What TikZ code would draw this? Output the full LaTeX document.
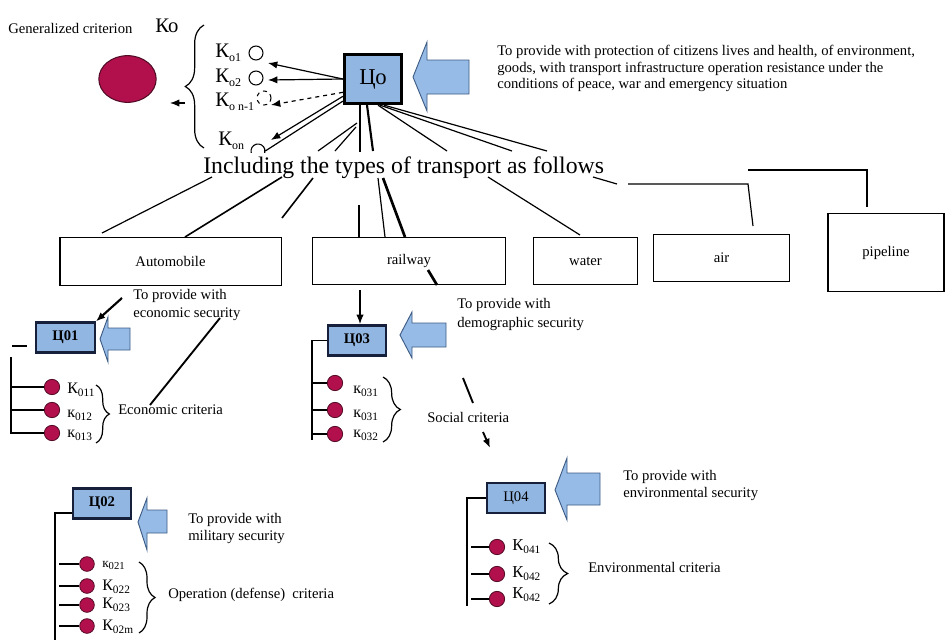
\documentclass[tikz,border=0pt]{standalone}
\usepackage{fontspec}
\setmainfont{Liberation Serif}
\usetikzlibrary{arrows.meta,shapes.geometric,decorations.pathreplacing}

\definecolor{goalfill}{RGB}{146,182,226}
\definecolor{goaledge}{RGB}{22,32,58}
\definecolor{arrowfill}{RGB}{150,187,230}
\definecolor{arrowedge}{RGB}{62,92,132}
\definecolor{critfill}{RGB}{178,16,76}
\definecolor{critedge}{RGB}{84,12,38}

\newcommand{\fsl}[2]{\fontsize{#1}{#2}\selectfont}
% index set slightly below the baseline of its letter
\newcommand{\lowidx}[3][0.2em]{\raisebox{-#1}{\fsl{#2}{#2}#3}}

\begin{document}
\begin{tikzpicture}[x=0.75pt, y=-0.75pt,
  conn/.style={line width=0.9pt},
  heavy/.style={line width=2pt},
  tipc/.style={-{Latex[length=7pt,width=5.5pt]}},
  txt/.style={inner sep=0pt, font=\fsl{11}{13}},
  klbl/.style={inner sep=0pt, anchor=base west, font=\fsl{12}{12}},
  topk/.style={inner sep=0pt, anchor=base west, font=\fsl{15.5}{15.5}},
  tbox/.style={draw, line width=1pt, inner sep=0pt, font=\fsl{11}{13}},
  goalbox/.style={draw=goaledge, line width=1.6pt, fill=goalfill, inner sep=0pt,
    minimum width=44pt, minimum height=22.5pt, font=\bfseries\fsl{11}{13}},
  critdot/.style={circle, draw=critedge, line width=0.6pt, fill=critfill,
    minimum size=11.5pt, inner sep=0pt},
  opencirc/.style={circle, draw, line width=0.8pt, minimum size=10.5pt, inner sep=0pt},
  arrowshape/.style={fill=arrowfill, draw=arrowedge, line width=0.7pt, line join=miter},
  bracedeco/.style={decorate, decoration={brace, amplitude=#1}, line width=0.9pt},
]
\useasboundingbox (0,0) rectangle (945,643);

% ---------- generalized criterion ----------
\node[txt, anchor=base west] (gen) at (8,33) {Generalized criterion};
\node[topk] (kolbl) at (155,32) {Ко};
\node[ellipse, fill=critfill, draw=critedge, line width=0.8pt,
      minimum width=43pt, minimum height=35pt] (gc) at (127.5,79) {};

% ---------- partial criteria of the upper level ----------
\node[topk] (lk1) at (215,57) {К\lowidx{9}{o1}};
\node[topk] (lk2) at (215,82) {К\lowidx{9}{o2}};
\node[topk] (lk3) at (215,106) {К\lowidx{9}{o n-1}};
\node[topk] (lk4) at (218,145) {К\lowidx{9}{on}};
\node[opencirc] (ko1) at (256,53) {};
\node[opencirc] (ko2) at (256,78) {};
\node[opencirc, dashed] (kon1) at (264,98) {};
\node[circle, minimum size=10.5pt, inner sep=0pt] (kon) at (258,151) {};
\draw[line width=0.8pt] ([shift={(195:5.25pt)}]kon.center) arc[start angle=195, end angle=-15, radius=5.25pt];

\draw[bracedeco=14pt] (204,148) -- (204,25);
\coordinate (kb1) at (185,103);
\coordinate (kb2) at (170,103);
\draw[conn, tipc] (kb1) -- (kb2);

% ---------- main goal ----------
\node[draw, line width=2.2pt, fill=goalfill, minimum width=43pt, minimum height=37pt,
      inner sep=0pt, font=\fsl{17}{17}] (co) at (373,79) {Цо};
\draw[arrowshape] (413,77) -- (427,42) -- (427,60) -- (469,60) -- (469,94) -- (427,94) -- (427,111) -- cycle;
\node[txt, anchor=north west, align=left, font=\fsl{11}{12.5}] (goal) at (497,45)
  {To provide with protection of citizens lives and health, of environment,\\
   goods, with transport infrastructure operation resistance under the\\
   conditions of peace, war and emergency situation};

\coordinate (t1) at (268,63);
\coordinate (t2) at (268,80);
\coordinate (t3) at (271,105);
\coordinate (t4) at (271,140);
\draw[conn, tipc] (co.west) -- (t1);
\draw[conn, tipc] (co.west) -- (t2);
\draw[conn, tipc, dashed] ([yshift=-10pt]co.west) -- (t3);
\draw[conn, tipc] ([yshift=-13pt]co.west) -- (t4);
\draw[conn] ([yshift=3pt]co.south west) -- (kon.east);

% ---------- types of transport ----------
\node[inner sep=0pt, anchor=base west, font=\fsl{17.8}{17.8}] (incl) at (203,173)
  {Including the types of transport as follows};

\coordinate (a1s) at (357,123); \coordinate (a1e) at (318,151);
\coordinate (a2s) at (356,127); \coordinate (a2e) at (335,151);
\coordinate (a3e) at (360,152);
\coordinate (a4e) at (373,151);
\coordinate (a5e) at (447,151);
\coordinate (a6e) at (512,151);
\coordinate (a7e) at (547,151);
\draw[conn] (a1s) -- (a1e);
\draw[conn] (a2s) -- (a2e);
\draw[heavy] ([xshift=-9.75pt]co.south) -- (a3e);
\draw[line width=1.6pt] ([xshift=-4.5pt]co.south) -- (a4e);
\draw[conn] ([xshift=3.75pt]co.south) -- (a5e);
\draw[conn] ([xshift=5.25pt]co.south) -- (a6e);
\draw[conn] ([xshift=8.25pt]co.south) -- (a7e);

\node[tbox, minimum width=166pt, minimum height=36pt] (auto) at (170.5,261.5) {Automobile};
\node[tbox, minimum width=144.5pt, minimum height=35pt] (rail) at (409,261) {railway};
\node[tbox, minimum width=78pt, minimum height=35pt] (water) at (585.5,261) {water};
\node[tbox, minimum width=102pt, minimum height=35pt] (air) at (721.5,258) {air};
\node[tbox, minimum width=87pt, minimum height=58.5pt] (pipe) at (886,252.5) {pipeline};

\coordinate (b1s) at (212,177); \coordinate (b1e) at (102,233);
\coordinate (b2s) at (282,177); \coordinate (b2e) at (185,237);
\coordinate (b3s) at (313,178); \coordinate (b3e) at (282,218);
\coordinate (b4s) at (359,205); \coordinate (b4e) at (359,237);
\coordinate (b5s) at (378,178); \coordinate (b5e) at (385,237);
\coordinate (b6s) at (383,178); \coordinate (b6e) at (405,237);
\coordinate (b7s) at (488,177); \coordinate (b7e) at (580,235);
\coordinate (b8s) at (593,177); \coordinate (b8e) at (617,184);
\coordinate (b9s) at (628,184); \coordinate (b9m) at (748,184); \coordinate (b9e) at (753,226);
\coordinate (b10s) at (748,170); \coordinate (b10m) at (867,170); \coordinate (b10e) at (867,207);
\draw[conn] (b1s) -- (b1e);
\draw[line width=1.2pt] (b2s) -- (b2e);
\draw[line width=1.2pt] (b3s) -- (b3e);
\draw[heavy] (b4s) -- (b4e);
\draw[conn] (b5s) -- (b5e);
\draw[heavy] (b6s) -- (b6e);
\draw[conn] (b7s) -- (b7e);
\draw[conn] (b8s) -- (b8e);
\draw[conn] (b9s) -- (b9m) -- (b9e);
\draw[conn] (b10s) -- (b10m) -- (b10e);

% ---------- economic security ----------
\node[goalbox] (c01) at (65.5,337.5) {Ц01};
\draw[arrowshape] (100,339) -- (108,317) -- (108,328) -- (130,328) -- (130,350) -- (108,350) -- (108,362) -- cycle;
\node[txt, anchor=north west, align=left, font=\fsl{11}{13.5}] (e01) at (133,289)
  {To provide with\\economic security};
\coordinate (p01) at (122,298);
\draw[line width=1.6pt, tipc] (p01) -- (c01.north east);
\coordinate (r01s) at (220,318); \coordinate (r01e) at (150,405);
\draw[line width=1.4pt] (r01s) -- (r01e);

\node[critdot] (d011) at (52,387) {};
\node[critdot] (d012) at (52,410) {};
\node[critdot] (d013) at (52,433) {};
\coordinate (h01a) at (12,346); \coordinate (h01b) at (27,346);
\coordinate (v01) at (11,357);
\draw[conn] (h01a) -- (h01b);
\draw[conn] (v01) |- (d013);
\draw[conn] (v01 |- d011) -- (d011);
\draw[conn] (v01 |- d012) -- (d012);
\node[klbl] (l011) at (67,393) {К\lowidx{8.5}{011}};
\node[klbl] (l012) at (67,417) {к\lowidx{8.5}{012}};
\node[klbl] (l013) at (67,437) {к\lowidx{8.5}{013}};
\draw[bracedeco=10pt] (96,385) -- (96,443);
\node[txt, anchor=base west] (ec) at (118,414) {Economic criteria};

% ---------- demographic security ----------
\node[goalbox] (c03) at (357,340.5) {Ц03};
\coordinate (r03s) at (360,290); \coordinate (r03e) at (360,324);
\draw[conn, tipc] (r03s) -- (r03e);
\coordinate (r03a) at (428,270); \coordinate (r03b) at (437,285);
\draw[heavy] (r03a) -- (r03b);
\draw[arrowshape] (400,335) -- (412,312) -- (412,323) -- (446,323) -- (446,347) -- (412,347) -- (412,358) -- cycle;
\node[txt, anchor=north west, align=left, font=\fsl{11}{14}] (e03) at (457,298)
  {To provide with\\demographic security};

\node[critdot] (d031) at (335,383) {};
\node[critdot] (d032) at (335,410) {};
\node[critdot] (d033) at (335,434) {};
\coordinate (v03) at (312,440);
\draw[conn] (c03.west) -| (v03);
\draw[conn] (v03 |- d031) -- (d031);
\draw[conn] (v03 |- d032) -- (d032);
\draw[conn] (v03 |- d033) -- (d033);
\node[klbl] (l031) at (353,393) {к\lowidx{8.5}{031}};
\node[klbl] (l032) at (353,417) {к\lowidx{8.5}{031}};
\node[klbl] (l033) at (353,437) {к\lowidx{8.5}{032}};
\draw[bracedeco=13pt] (383,377) -- (383,442);
\node[txt, anchor=base west] (sc) at (427,422) {Social criteria};
\coordinate (q03a) at (463,378); \coordinate (q03b) at (473,403);
\draw[line width=1.4pt] (q03a) -- (q03b);
\coordinate (q03c) at (483,432); \coordinate (q03d) at (490,448);
\draw[line width=1.4pt, tipc] (q03c) -- (q03d);

% ---------- military security ----------
\node[goalbox] (c02) at (102,503.5) {Ц02};
\draw[arrowshape] (138,522) -- (147,498) -- (147,510) -- (167,510) -- (167,533) -- (147,533) -- (147,550) -- cycle;
\node[txt, anchor=north west, align=left, font=\fsl{11}{12.5}] (e02) at (188,513)
  {To provide with\\military security};
\coordinate (h02) at (55,513); \coordinate (v02) at (55,640);
\draw[conn] (c02.west |- h02) -- (h02) -- (v02);
\node[critdot, minimum size=11pt] (d021) at (87,564) {};
\node[critdot, minimum size=11pt] (d022) at (87,586) {};
\node[critdot, minimum size=11pt] (d023) at (87,605) {};
\node[critdot, minimum size=11pt] (d024) at (87,626) {};
\coordinate (s02) at (59,564);
\draw[conn] (s02 |- d021) -- (d021);
\draw[conn] (s02 |- d022) -- (d022);
\draw[conn] (s02 |- d023) -- (d023);
\draw[conn] (s02 |- d024) -- (d024);
\node[klbl, font=\fsl{10}{10}] (l021) at (102,567) {к\lowidx{8}{021}};
\node[klbl] (l022) at (102,590) {К\lowidx{8.5}{022}};
\node[klbl] (l023) at (102,608) {К\lowidx{8.5}{023}};
\node[klbl] (l024) at (102,630) {К\lowidx{8.5}{02m}};
\draw[bracedeco=12pt] (139,562) -- (139,633);
\node[txt, anchor=base west] (oc) at (168,598) {Operation (defense)\ \ criteria};

% ---------- environmental security ----------
\node[goalbox, font=\fsl{11}{13}] (c04) at (516,498) {Ц04};
\draw[arrowshape] (555,490) -- (567,458) -- (567,473) -- (600,473) -- (600,505) -- (567,505) -- (567,520) -- cycle;
\node[txt, anchor=north west, align=left, font=\fsl{11}{12.75}] (e04) at (623,470)
  {To provide with\\environmental security};
\node[critdot] (d041) at (497,547) {};
\node[critdot] (d042) at (497,574) {};
\node[critdot] (d043) at (497,599) {};
\coordinate (v04) at (467,606);
\draw[conn] (c04.west) -| (v04);
\coordinate (s04) at (471,547);
\draw[conn] (s04 |- d041) -- (d041);
\draw[conn] (s04 |- d042) -- (d042);
\draw[conn] (s04 |- d043) -- (d043);
\node[klbl, font=\fsl{12.5}{12.5}] (l041) at (512,550) {К\lowidx{8.5}{041}};
\node[klbl, font=\fsl{12.5}{12.5}] (l042) at (512,577) {К\lowidx{8.5}{042}};
\node[klbl, font=\fsl{12.5}{12.5}] (l043) at (512,598) {К\lowidx{8.5}{042}};
\draw[bracedeco=14pt] (549,543) -- (549,604);
\node[txt, anchor=base west] (envc) at (588,572) {Environmental criteria};

\end{tikzpicture}
\end{document}
